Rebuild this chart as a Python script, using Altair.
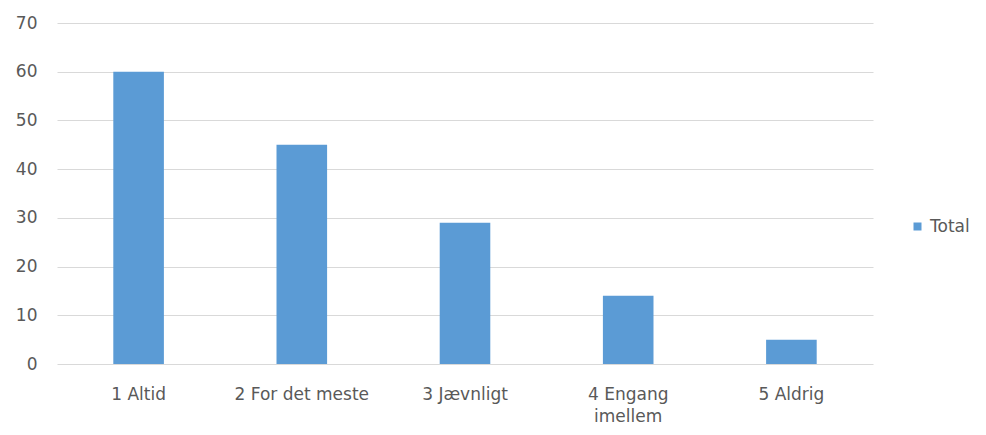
import altair as alt
import pandas as pd

categories = ["1 Altid", "2 For det meste", "3 Jævnligt", "4 Engang imellem", "5 Aldrig"]
values = [60, 45, 29, 14, 5]
series = ["Total"] * len(categories)

df = pd.DataFrame({"category": categories, "value": values, "series": series})

FONT = "DejaVu Sans"
TXT = "#595959"

chart = alt.Chart(df).mark_bar(color="#5B9BD5").encode(
    x=alt.X("category:N", sort=categories, title=None,
            scale=alt.Scale(paddingInner=0.69, paddingOuter=0.345),
            axis=alt.Axis(labelAngle=0, domain=False, ticks=False, tickSize=0,
                          labelPadding=22, labelFont=FONT, labelFontSize=17,
                          labelColor=TXT, labelBaseline="top", labelLineHeight=22,
                          labelExpr="datum.label == '4 Engang imellem' ? ['4 Engang', 'imellem'] : datum.label")),
    y=alt.Y("value:Q", title=None,
            scale=alt.Scale(domain=[0, 70]),
            axis=alt.Axis(values=[0, 10, 20, 30, 40, 50, 60, 70], domain=False, ticks=False,
                          tickSize=0, labelPadding=20, labelFont=FONT, labelFontSize=17,
                          labelColor=TXT, gridColor="#D9D9D9", gridWidth=1)),
    color=alt.Color("series:N", title=None,
                    scale=alt.Scale(domain=["Total"], range=["#5B9BD5"]),
                    legend=alt.Legend(orient="none", legendX=852, legendY=195,
                                      symbolType="square", symbolSize=64,
                                      labelFont=FONT, labelFontSize=17, labelColor=TXT,
                                      symbolStrokeWidth=0)),
).properties(
    width=816, height=341,
    background="white",
    autosize=alt.AutoSizeParams(type="none"),
    padding={"left": 49, "top": 15, "right": 105, "bottom": 62},
).configure_view(stroke=None)

chart.save("out.html", embed_options={"renderer": "svg", "actions": False})
